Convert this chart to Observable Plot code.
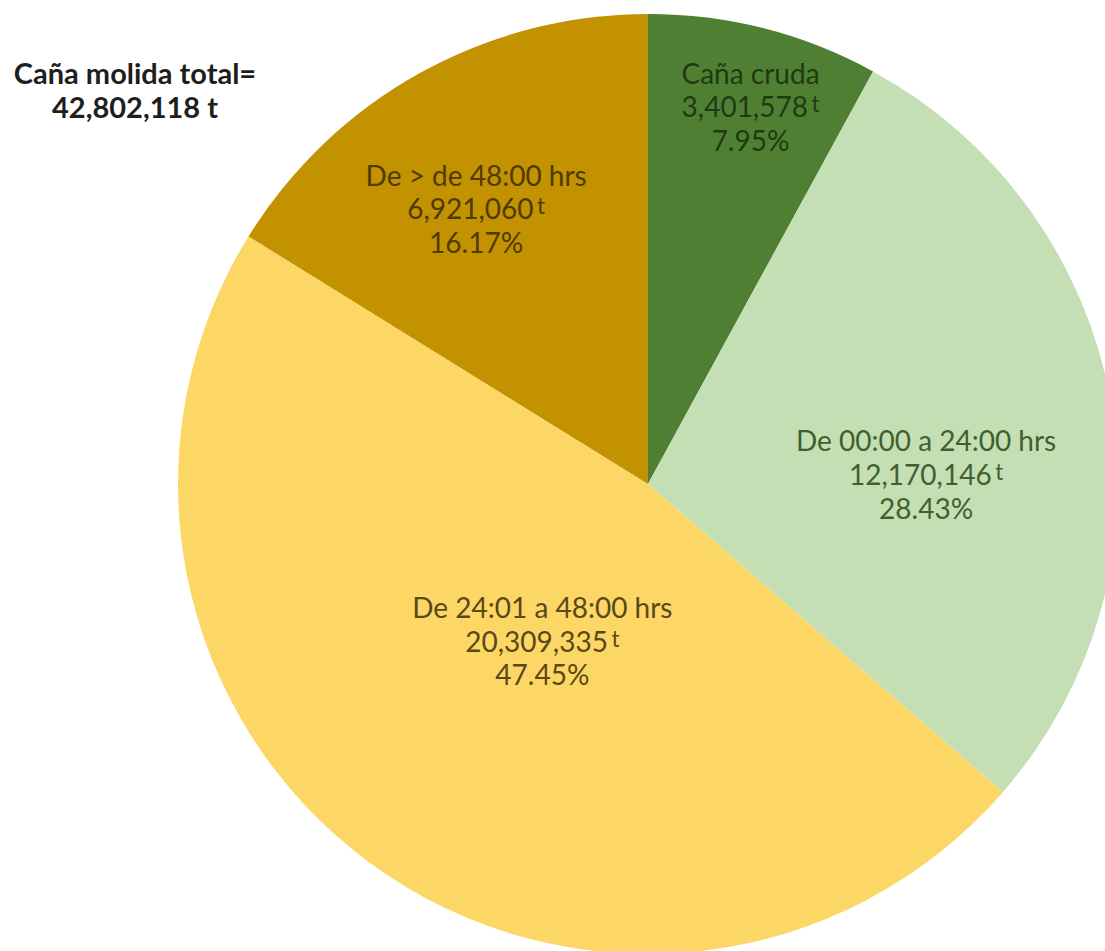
<!DOCTYPE html>
<html>
<head>
<meta charset="utf-8">
<script src="https://cdn.jsdelivr.net/npm/d3@7"></script>
<script src="https://cdn.jsdelivr.net/npm/@observablehq/plot@0.6"></script>
<style>
  html, body { margin: 0; padding: 0; background: #fff; }
  #wrap { position: relative; width: 1105px; height: 951px; overflow: hidden; }
  #title { position: absolute; left: 0; top: 56px; width: 270px; text-align: center;
           font-family: Lato, "Open Sans", sans-serif; font-weight: bold; font-size: 29px;
           line-height: 34px; color: #1e1e1e; white-space: nowrap; }
</style>
</head>
<body>
<div id="wrap">
  <div id="chart"></div>
  <div id="title">Caña molida total=<br>42,802,118 t</div>
</div>
<script>
// ---- data ----
const categories = ["Caña cruda", "De 00:00 a 24:00 hrs", "De 24:01 a 48:00 hrs", "De > de 48:00 hrs"];
const tonnes = [3401578, 12170146, 20309335, 6921060];
const tonnesLabels = ["3,401,578", "12,170,146", "20,309,335", "6,921,060"];
const percentLabels = ["7.95%", "28.43%", "47.45%", "16.17%"];

// ---- styles / layout ----
const sliceColors = ["#4f7f33", "#c5dfb5", "#fdd765", "#c39200"];
const textColors = ["#1f3a12", "#40603000".slice(0, 7), "#5a4818", "#4f3a00"];
const labelRadiusFrac = [0.833, 0.591, 0.402, 0.692];
const labelAngleShift = [0.8, 8.1, -2.2, -2.9]; // degrees
const W = 1105, H = 951;
const cx = 648, cy = 484, R = 470;

const data = categories.map((c, i) => ({
  category: c, value: tonnes[i],
  label: `${c}\n${tonnesLabels[i]}\u2009t\n${percentLabels[i]}`,
  color: sliceColors[i], textColor: textColors[i]
}));

const arcs = d3.pie().sort(null).value(d => d.value)(data);
arcs.forEach((a, i) => {
  const mid = (a.startAngle + a.endAngle) / 2 + labelAngleShift[i] * Math.PI / 180;
  const r = R * labelRadiusFrac[i];
  a.data.lx = cx + r * Math.sin(mid);
  a.data.ly = cy - r * Math.cos(mid);
});

function pieMark(index, scales) {
  const g = d3.create("svg:g");
  const arcGen = d3.arc().innerRadius(0).outerRadius(R);
  g.attr("transform", `translate(${scales.x(cx)},${scales.y(cy)})`);
  g.selectAll("path").data(arcs).join("path")
    .attr("d", arcGen)
    .attr("fill", d => d.data.color)
    .attr("stroke", "none");
  return g.node();
}

const chart = Plot.plot({
  width: W, height: H,
  margin: 0,
  x: { domain: [0, W], range: [0, W], axis: null },
  y: { domain: [0, H], range: [0, H], axis: null },
  style: { background: "white" },
  marks: [
    pieMark,
    Plot.text(data, {
      x: "lx", y: "ly", text: "label",
      fill: d => d.textColor,
      fontSize: 28, lineHeight: 1.2,
      fontFamily: "Lato, 'Open Sans', sans-serif",
      textAnchor: "middle", lineAnchor: "middle"
    })
  ]
});

// raise the unit "t" slightly, as in the original
chart.querySelectorAll("text tspan").forEach(ts => {
  const s = ts.textContent;
  if (s.endsWith("\u2009t")) {
    ts.textContent = s.slice(0, -1);
    const sup = document.createElementNS("http://www.w3.org/2000/svg", "tspan");
    sup.setAttribute("font-size", "0.8em");
    sup.setAttribute("baseline-shift", "25%");
    sup.textContent = "t";
    ts.appendChild(sup);
  }
});

document.getElementById("chart").appendChild(chart);
</script>
</body>
</html>
